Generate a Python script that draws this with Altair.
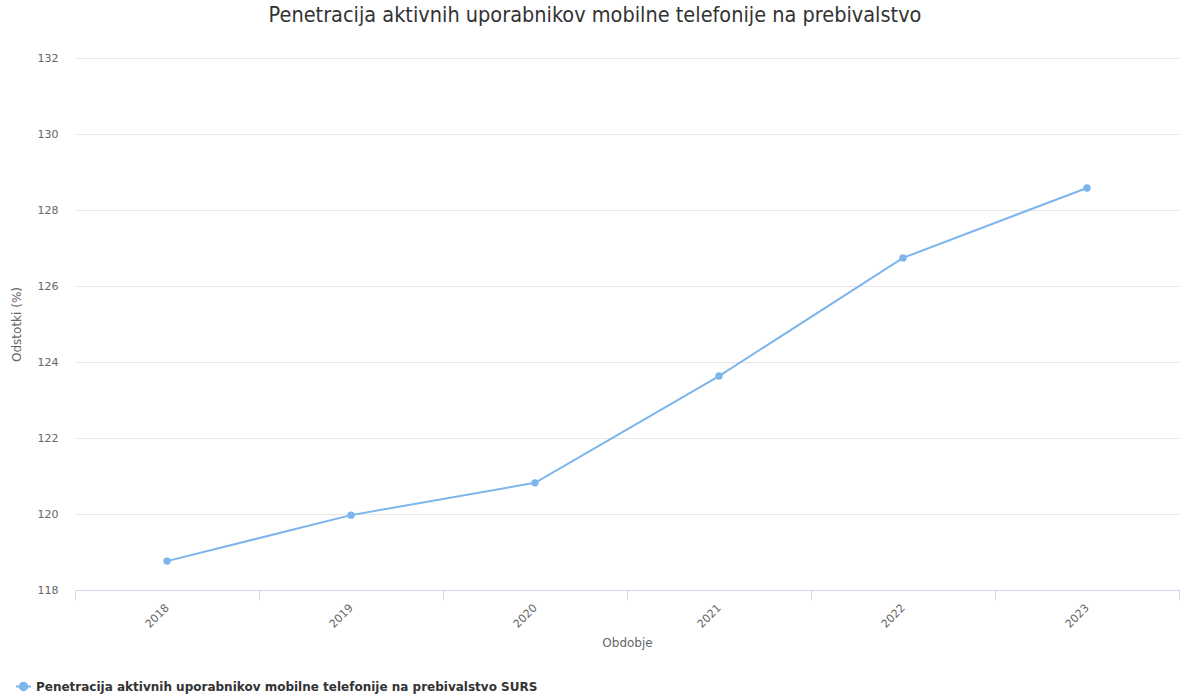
import altair as alt
import pandas as pd

years = ["2018", "2019", "2020", "2021", "2022", "2023"]
values = [118.76, 119.97, 120.82, 123.63, 126.74, 128.58]
series_name = "Penetracija aktivnih uporabnikov mobilne telefonije na prebivalstvo SURS"
y_ticks = [118, 120, 122, 124, 126, 128, 130, 132]

df = pd.DataFrame({"Obdobje": years, "Vrednost": values, "Serija": [series_name] * len(years)})

COLOR = "#7cb5ec"
FONT = "DejaVu Sans"
TITLE_FONT = "DejaVu Sans Condensed, Open Sans"

legend_path = ("M-1,0 L-0.5,0 M0.5,0 L1,0 "
               "M-0.5,0 A0.5,0.5 0 1,0 0.5,0 A0.5,0.5 0 1,0 -0.5,0 Z")

x_enc = alt.X(
    "Obdobje:O",
    sort=years,
    bandPosition=0.5,
    scale=alt.Scale(type="band", paddingInner=0, paddingOuter=0),
    axis=alt.Axis(
        title="Obdobje",
        labelAngle=-45,
        labelAlign="right",
        labelBaseline="middle",
        labelPadding=6,
        labelFontSize=11,
        labelColor="#666666",
        labelFont=FONT,
        tickBand="extent",
        tickSize=10,
        tickColor="#ccd6eb",
        domainColor="#ccd6eb",
        grid=False,
        titleFont=FONT,
        titleFontSize=12,
        titleFontWeight="normal",
        titleColor="#666666",
        titlePadding=8,
    ),
)

y_enc = alt.Y(
    "Vrednost:Q",
    scale=alt.Scale(domain=[118, 132], nice=False, zero=False),
    axis=alt.Axis(
        title="Odstotki (%)",
        values=y_ticks,
        domain=False,
        ticks=False,
        labelPadding=17,
        labelFontSize=11,
        labelColor="#666666",
        labelFont=FONT,
        gridColor="#e6e6e6",
        titleFont=FONT,
        titleFontSize=12,
        titleFontWeight="normal",
        titleColor="#666666",
        titlePadding=14,
    ),
)

color_enc = alt.Color(
    "Serija:N",
    scale=alt.Scale(range=[COLOR]),
    legend=alt.Legend(
        title=None,
        orient="none",
        legendX=-60,
        legendY=620,
        symbolType=legend_path,
        symbolSize=225,
        symbolStrokeWidth=2,
        symbolFillColor=COLOR,
        symbolStrokeColor=COLOR,
        labelFont=FONT,
        labelFontSize=12,
        labelFontWeight="bold",
        labelColor="#333333",
        labelLimit=0,
    ),
)

base = alt.Chart(df)
line = base.mark_line(strokeWidth=2, color=COLOR).encode(x=x_enc, y=y_enc, color=color_enc)
points = base.mark_circle(size=55, opacity=1, color=COLOR).encode(x=x_enc, y=y_enc, color=color_enc)

chart = (
    alt.layer(line, points)
    .properties(
        width=1104,
        height=532,
        background="white",
        autosize=alt.AutoSizeParams(type="none"),
        padding={"left": 75, "top": 58, "right": 1, "bottom": 105},
        title=alt.TitleParams(
            "Penetracija aktivnih uporabnikov mobilne telefonije na prebivalstvo",
            font=TITLE_FONT,
            fontSize=21.5,
            fontWeight="normal",
            color="#333333",
            anchor="middle",
            dx=-32,
            offset=26,
        ),
    )
    .configure_view(strokeWidth=0, stroke="transparent")
)

chart.save("out.html", embed_options={"renderer": "svg", "actions": False})
